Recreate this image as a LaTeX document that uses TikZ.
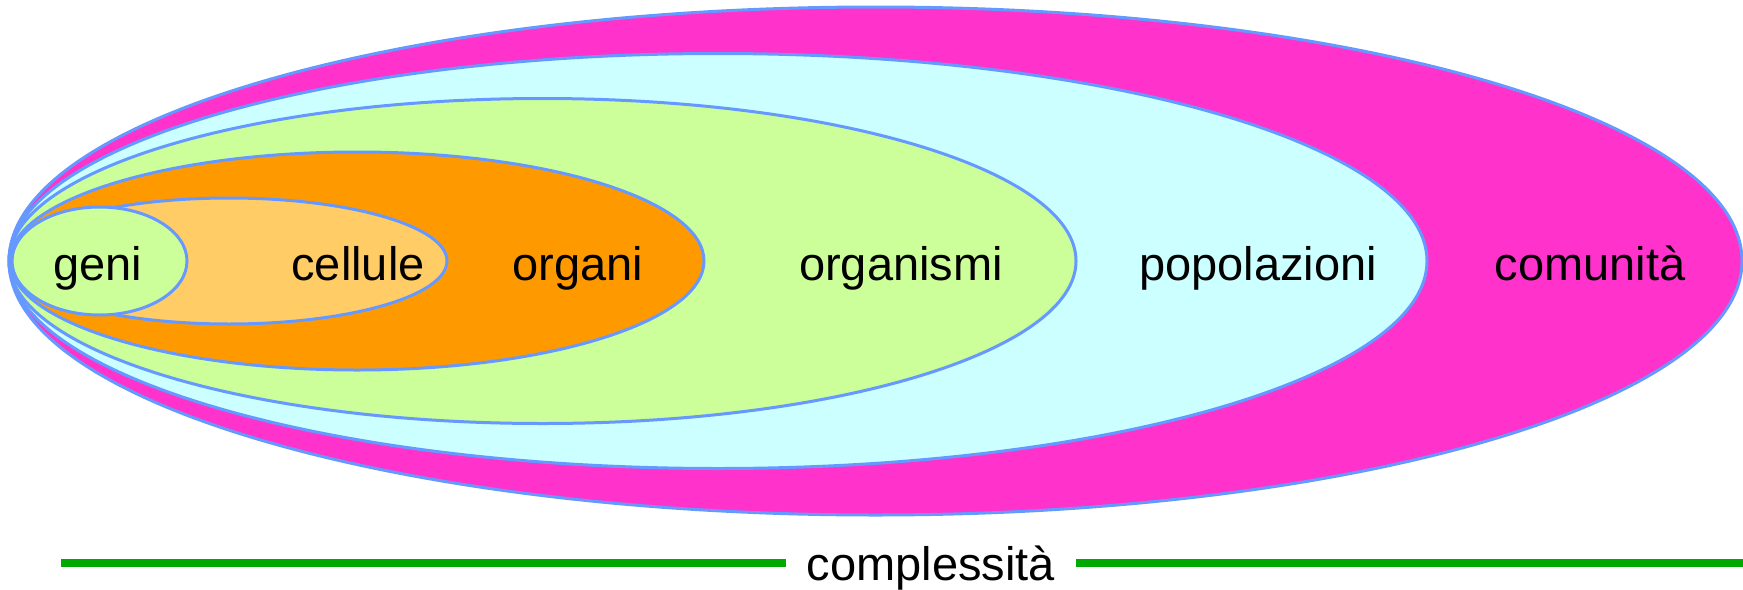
\documentclass[tikz,border=0pt]{standalone}
\usepackage{fontspec}
\setmainfont{Liberation Sans}
\definecolor{rimblue}{HTML}{6699FF}
\definecolor{magentafill}{HTML}{FF33CC}
\definecolor{cyanfill}{HTML}{CCFFFF}
\definecolor{limefill}{HTML}{CCFF99}
\definecolor{orangefill}{HTML}{FF9900}
\definecolor{peachfill}{HTML}{FFCC66}
\definecolor{axisgreen}{HTML}{00AA00}
\begin{document}
\begin{tikzpicture}[x=0.5pt,y=-0.5pt,
  level/.style={draw=rimblue,line width=1.5pt},
  lbl/.style={font=\fontsize{23.5}{28}\selectfont,anchor=base,inner sep=0pt},
  axis/.style={draw=axisgreen,line width=4pt}]
\useasboundingbox (0,0) rectangle (1743,589);
% nested levels of organisation, largest first
\path[level,fill=magentafill] (875.5,261) ellipse [x radius=433.25pt,y radius=127pt];
\path[level,fill=cyanfill]    (718,261)   ellipse [x radius=354.5pt,y radius=103.75pt];
\path[level,fill=limefill]    (542.5,261) ellipse [x radius=266.75pt,y radius=81.25pt];
\path[level,fill=orangefill]  (357,261)   ellipse [x radius=173.5pt,y radius=54.5pt];
\path[level,fill=peachfill]   (229,261)   ellipse [x radius=109pt,y radius=31.5pt];
\path[level,fill=limefill]    (99.5,261)  ellipse [x radius=43.75pt,y radius=27pt];
% labels
\node[lbl] (geni)  at (98,280)   {geni};
\node[lbl] (cell)  at (358,280)  {cellule};
\node[lbl] (org)   at (578,280)  {organi};
\node[lbl] (orgm)  at (901,280)  {organismi};
\node[lbl] (pop)   at (1258,280) {popolazioni};
\node[lbl] (com)   at (1590,280) {comunità};
% complexity axis
\node[lbl,anchor=base,inner xsep=10.5pt] (cx) at (931,580) {complessità};
\coordinate (axL) at (61,563);
\coordinate (axR) at (1743,563);
\draw[axis] (axL) -- (axL -| cx.west);
\draw[axis] (axR -| cx.east) -- (axR);
\end{tikzpicture}
\end{document}
